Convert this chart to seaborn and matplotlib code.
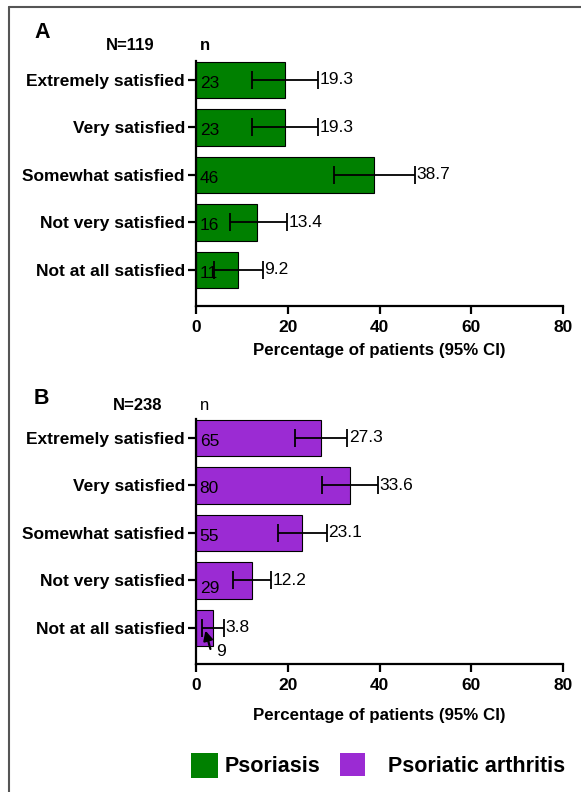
import matplotlib
matplotlib.use("Agg")
import matplotlib.pyplot as plt
from matplotlib.lines import Line2D
from matplotlib.patches import Rectangle
import seaborn as sns
import pandas as pd

sns.set_theme(style="white")
plt.rcParams['font.family'] = ['Liberation Sans', 'DejaVu Sans']
plt.rcParams['text.color'] = 'black'
plt.rcParams['axes.labelcolor'] = 'black'
plt.rcParams['xtick.color'] = 'black'
plt.rcParams['ytick.color'] = 'black'

# Data
categories = ["Extremely satisfied", "Very satisfied", "Somewhat satisfied",
              "Not very satisfied", "Not at all satisfied"]

pso_n = [23, 23, 46, 16, 11]
pso_pct = [19.3, 19.3, 38.7, 13.4, 9.2]
pso_lo = [12.3, 12.3, 30.1, 7.4, 3.9]
pso_hi = [26.6, 26.6, 47.8, 19.8, 14.5]

psa_n = [65, 80, 55, 29, 9]
psa_pct = [27.3, 33.6, 23.1, 12.2, 3.8]
psa_lo = [21.6, 27.5, 17.8, 8.0, 1.3]
psa_hi = [33.0, 39.6, 28.5, 16.4, 6.2]

green = "#008000"
purple = "#9B2BD3"

fig = plt.figure(figsize=(5.81, 7.92), dpi=100)

def panel(rect, n, pct, lo, hi, color, letter, total, n_bold, letter_y, n_y, n_x, lpad):
    ax = fig.add_axes(rect)
    df = pd.DataFrame({"cat": categories, "pct": pct})
    sns.barplot(data=df, x="pct", y="cat", color=color, saturation=1,
                width=0.775, edgecolor="black", linewidth=0.8, ax=ax)
    ys = list(range(len(categories)))
    xerr = [[p - l for p, l in zip(pct, lo)], [h - p for p, h in zip(pct, hi)]]
    ax.errorbar(pct, ys, xerr=xerr, fmt="none", ecolor="black",
                elinewidth=1.3, capsize=6.5, capthick=1.3)
    for i in ys:
        ax.text(hi[i] + 0.3, i, f"{pct[i]}", va="center", ha="left", fontsize=12.5)
    for i in ys:
        if n[i] == 9 and pct[i] < 5:
            ax.text(4.3, 4.5, f"{n[i]}", va="center", ha="left", fontsize=12.5)
            ax.annotate("", xy=(1.9, 4.0), xytext=(3.3, 4.5),
                        arrowprops=dict(arrowstyle="-|>", color="black", lw=1.6,
                                        mutation_scale=14))
        else:
            dy = 0.17 if n[i] == 29 else 0.07
            ax.text(0.8, i + dy, f"{n[i]}", va="center", ha="left", fontsize=12.5)
    ax.set_xlim(0, 80)
    ax.set_ylim(4.76, -0.40)
    ax.set_xticks([0, 20, 40, 60, 80])
    ax.set_xlabel("Percentage of patients (95% CI)", fontsize=12.2,
                  fontweight="bold", labelpad=lpad)
    ax.set_ylabel("")
    for lab in ax.get_xticklabels() + ax.get_yticklabels():
        lab.set_fontweight("bold")
        lab.set_fontsize(12.5)
    for s in ["top", "right"]:
        ax.spines[s].set_visible(False)
    for s in ["left", "bottom"]:
        ax.spines[s].set_linewidth(1.6)
        ax.spines[s].set_color("black")
    ax.tick_params(axis="both", which="major", direction="out", length=6,
                   width=1.6, color="black", left=True, bottom=True, pad=2)
    ax.tick_params(axis="x", pad=4)
    fig.text(34 / 581, 1 - letter_y / 792, letter, fontsize=15.5,
             fontweight="bold", va="center", ha="left")
    fig.text(n_x / 581, 1 - n_y / 792,
             f"N={total}", fontsize=12, fontweight="bold", va="center", ha="center")
    fig.text(200 / 581, 1 - n_y / 792, "n", fontsize=12,
             fontweight="bold" if n_bold else "normal", va="center", ha="left")
    return ax

panel([196 / 581, 1 - 306 / 792, 367 / 581, 245 / 792], pso_n, pso_pct, pso_lo,
      pso_hi, green, "A", 119, True, 32, 46, 130, 6)
panel([196 / 581, 1 - 664 / 792, 367 / 581, 245 / 792], psa_n, psa_pct, psa_lo,
      psa_hi, purple, "B", 238, False, 399, 406, 138, 11)

# Legend
fig.patches.append(Rectangle((191 / 581, 1 - 778 / 792), 27 / 581, 25 / 792,
                             transform=fig.transFigure, facecolor=green,
                             edgecolor="none"))
fig.patches.append(Rectangle((340 / 581, 1 - 776 / 792), 25 / 581, 23 / 792,
                             transform=fig.transFigure, facecolor=purple,
                             edgecolor="none"))
fig.text(225 / 581, 1 - 766 / 792, "Psoriasis", fontsize=15.5, fontweight="bold",
         va="center", ha="left")
fig.text(388 / 581, 1 - 766 / 792, "Psoriatic arthritis", fontsize=15.5,
         fontweight="bold", va="center", ha="left")

# Outer frame (cropped)
fig.add_artist(Line2D([9 / 581, 9 / 581], [0, 1 - 7 / 792], color="#555555",
                      lw=1.5, transform=fig.transFigure))
fig.add_artist(Line2D([9 / 581, 1], [1 - 7 / 792, 1 - 7 / 792], color="#555555",
                      lw=1.5, transform=fig.transFigure))

fig.savefig("out.png", dpi=100)
